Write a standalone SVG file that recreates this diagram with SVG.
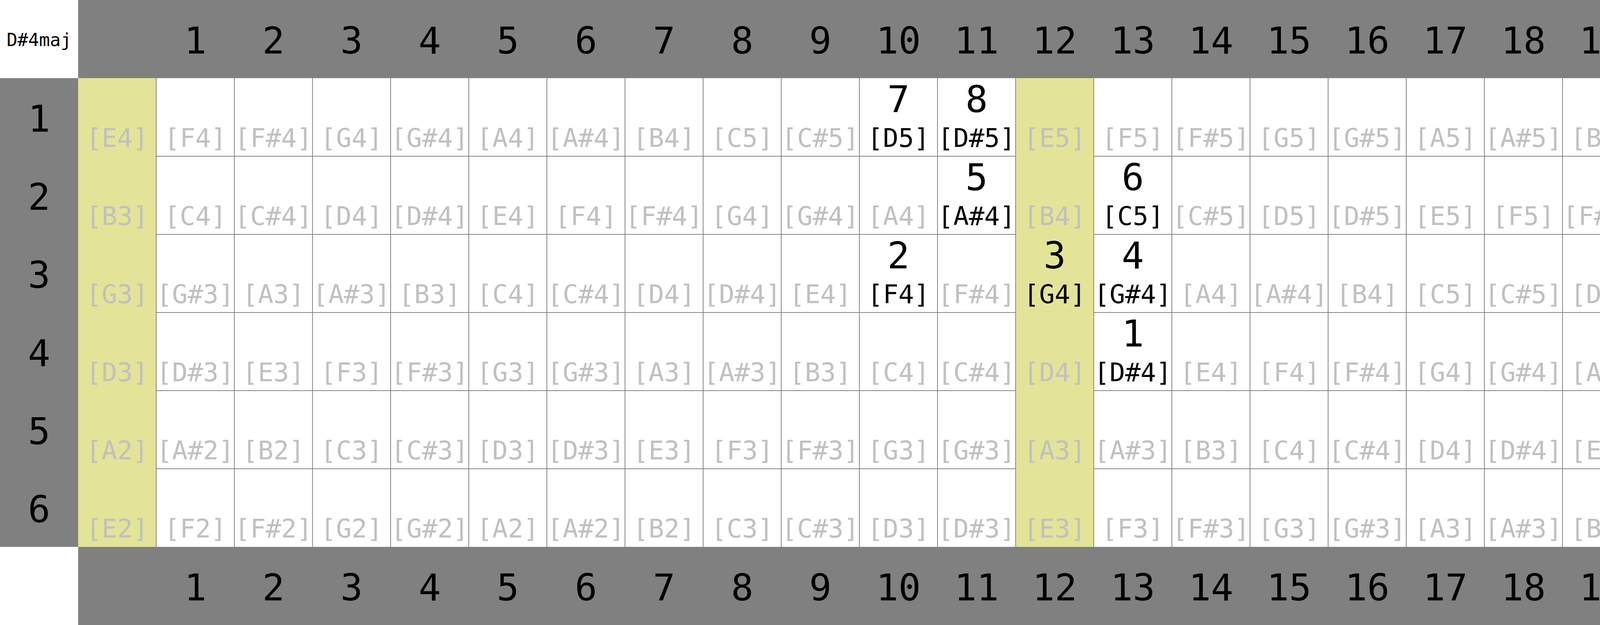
<svg xmlns="http://www.w3.org/2000/svg" width="5400" height="1600" viewBox="0 0 5400 1600">
<style>
text{font-family:"DejaVu Sans Mono","Liberation Mono",monospace;text-anchor:middle}
.hd{font-size:95px;fill:#000}
.ttl{font-size:46px;fill:#000}
.n{font-size:66px;fill:#c0c0c0}
.a{font-size:66px;fill:#000}
.num{font-size:95px;fill:#000}
.band{fill:#808080}
.open{fill:#e3e498}
.gl{stroke:#868686;stroke-width:2;fill:none}
</style>
<rect x="0" y="0" width="5400" height="1600" fill="#ffffff"/>
<g id="grid">
<path class="gl" d="M200 400H5200M200 600H5200M200 800H5200M200 1000H5200M200 1200H5200"/>
<rect class="open" x="200" y="200" width="200" height="1200"/>
<rect class="open" x="2600" y="200" width="200" height="1200"/>
<rect class="open" x="5000" y="200" width="200" height="1200"/>
<path class="gl" d="M400 200V1400M600 200V1400M800 200V1400M1000 200V1400M1200 200V1400M1400 200V1400M1600 200V1400M1800 200V1400M2000 200V1400M2200 200V1400M2400 200V1400M2600 200V1400M2800 200V1400M3000 200V1400M3200 200V1400M3400 200V1400M3600 200V1400M3800 200V1400M4000 200V1400M4200 200V1400M4400 200V1400M4600 200V1400M4800 200V1400M5000 200V1400"/>
</g>
<g id="bands">
<rect class="band" x="200" y="0" width="5000" height="200"/>
<rect class="band" x="200" y="1400" width="5000" height="200"/>
<rect class="band" x="0" y="200" width="200" height="1200"/>
<rect class="band" x="5200" y="200" width="200" height="1200"/>
</g>
<g id="title"><text class="ttl" x="100" y="118">D#4maj</text></g>
<g id="fret-numbers-top">
<text class="hd" x="500" y="137">1</text><text class="hd" x="700" y="137">2</text><text class="hd" x="900" y="137">3</text><text class="hd" x="1100" y="137">4</text><text class="hd" x="1300" y="137">5</text><text class="hd" x="1500" y="137">6</text><text class="hd" x="1700" y="137">7</text><text class="hd" x="1900" y="137">8</text><text class="hd" x="2100" y="137">9</text><text class="hd" x="2300" y="137">10</text><text class="hd" x="2500" y="137">11</text><text class="hd" x="2700" y="137">12</text><text class="hd" x="2900" y="137">13</text><text class="hd" x="3100" y="137">14</text><text class="hd" x="3300" y="137">15</text><text class="hd" x="3500" y="137">16</text><text class="hd" x="3700" y="137">17</text><text class="hd" x="3900" y="137">18</text><text class="hd" x="4100" y="137">19</text><text class="hd" x="4300" y="137">20</text><text class="hd" x="4500" y="137">21</text><text class="hd" x="4700" y="137">22</text><text class="hd" x="4900" y="137">23</text><text class="hd" x="5100" y="137">24</text>
</g>
<g id="fret-numbers-bottom">
<text class="hd" x="500" y="1537">1</text><text class="hd" x="700" y="1537">2</text><text class="hd" x="900" y="1537">3</text><text class="hd" x="1100" y="1537">4</text><text class="hd" x="1300" y="1537">5</text><text class="hd" x="1500" y="1537">6</text><text class="hd" x="1700" y="1537">7</text><text class="hd" x="1900" y="1537">8</text><text class="hd" x="2100" y="1537">9</text><text class="hd" x="2300" y="1537">10</text><text class="hd" x="2500" y="1537">11</text><text class="hd" x="2700" y="1537">12</text><text class="hd" x="2900" y="1537">13</text><text class="hd" x="3100" y="1537">14</text><text class="hd" x="3300" y="1537">15</text><text class="hd" x="3500" y="1537">16</text><text class="hd" x="3700" y="1537">17</text><text class="hd" x="3900" y="1537">18</text><text class="hd" x="4100" y="1537">19</text><text class="hd" x="4300" y="1537">20</text><text class="hd" x="4500" y="1537">21</text><text class="hd" x="4700" y="1537">22</text><text class="hd" x="4900" y="1537">23</text><text class="hd" x="5100" y="1537">24</text>
</g>
<g id="string-numbers-left">
<text class="hd" x="100" y="337">1</text><text class="hd" x="100" y="537">2</text><text class="hd" x="100" y="737">3</text><text class="hd" x="100" y="937">4</text><text class="hd" x="100" y="1137">5</text><text class="hd" x="100" y="1337">6</text>
</g>
<g id="string-numbers-right">
<text class="hd" x="5300" y="337">1</text><text class="hd" x="5300" y="537">2</text><text class="hd" x="5300" y="737">3</text><text class="hd" x="5300" y="937">4</text><text class="hd" x="5300" y="1137">5</text><text class="hd" x="5300" y="1337">6</text>
</g>
<g id="string-1">
<text class="n" x="300" y="376">[E4]</text><text class="n" x="500" y="376">[F4]</text><text class="n" x="700" y="376">[F#4]</text><text class="n" x="900" y="376">[G4]</text><text class="n" x="1100" y="376">[G#4]</text><text class="n" x="1300" y="376">[A4]</text><text class="n" x="1500" y="376">[A#4]</text><text class="n" x="1700" y="376">[B4]</text><text class="n" x="1900" y="376">[C5]</text><text class="n" x="2100" y="376">[C#5]</text><text class="n" x="2700" y="376">[E5]</text><text class="n" x="2900" y="376">[F5]</text><text class="n" x="3100" y="376">[F#5]</text><text class="n" x="3300" y="376">[G5]</text><text class="n" x="3500" y="376">[G#5]</text><text class="n" x="3700" y="376">[A5]</text><text class="n" x="3900" y="376">[A#5]</text><text class="n" x="4100" y="376">[B5]</text><text class="n" x="4300" y="376">[C6]</text><text class="n" x="4500" y="376">[C#6]</text><text class="n" x="4700" y="376">[D6]</text><text class="n" x="4900" y="376">[D#6]</text><text class="n" x="5100" y="376">[E6]</text>
</g>
<g id="s1-f10"><text class="num" x="2300" y="287">7</text><text class="a" x="2300" y="376">[D5]</text></g>
<g id="s1-f11"><text class="num" x="2500" y="287">8</text><text class="a" x="2500" y="376">[D#5]</text></g>
<g id="string-2">
<text class="n" x="300" y="576">[B3]</text><text class="n" x="500" y="576">[C4]</text><text class="n" x="700" y="576">[C#4]</text><text class="n" x="900" y="576">[D4]</text><text class="n" x="1100" y="576">[D#4]</text><text class="n" x="1300" y="576">[E4]</text><text class="n" x="1500" y="576">[F4]</text><text class="n" x="1700" y="576">[F#4]</text><text class="n" x="1900" y="576">[G4]</text><text class="n" x="2100" y="576">[G#4]</text><text class="n" x="2300" y="576">[A4]</text><text class="n" x="2700" y="576">[B4]</text><text class="n" x="3100" y="576">[C#5]</text><text class="n" x="3300" y="576">[D5]</text><text class="n" x="3500" y="576">[D#5]</text><text class="n" x="3700" y="576">[E5]</text><text class="n" x="3900" y="576">[F5]</text><text class="n" x="4100" y="576">[F#5]</text><text class="n" x="4300" y="576">[G5]</text><text class="n" x="4500" y="576">[G#5]</text><text class="n" x="4700" y="576">[A5]</text><text class="n" x="4900" y="576">[A#5]</text><text class="n" x="5100" y="576">[B5]</text>
</g>
<g id="s2-f11"><text class="num" x="2500" y="487">5</text><text class="a" x="2500" y="576">[A#4]</text></g>
<g id="s2-f13"><text class="num" x="2900" y="487">6</text><text class="a" x="2900" y="576">[C5]</text></g>
<g id="string-3">
<text class="n" x="300" y="776">[G3]</text><text class="n" x="500" y="776">[G#3]</text><text class="n" x="700" y="776">[A3]</text><text class="n" x="900" y="776">[A#3]</text><text class="n" x="1100" y="776">[B3]</text><text class="n" x="1300" y="776">[C4]</text><text class="n" x="1500" y="776">[C#4]</text><text class="n" x="1700" y="776">[D4]</text><text class="n" x="1900" y="776">[D#4]</text><text class="n" x="2100" y="776">[E4]</text><text class="n" x="2500" y="776">[F#4]</text><text class="n" x="3100" y="776">[A4]</text><text class="n" x="3300" y="776">[A#4]</text><text class="n" x="3500" y="776">[B4]</text><text class="n" x="3700" y="776">[C5]</text><text class="n" x="3900" y="776">[C#5]</text><text class="n" x="4100" y="776">[D5]</text><text class="n" x="4300" y="776">[D#5]</text><text class="n" x="4500" y="776">[E5]</text><text class="n" x="4700" y="776">[F5]</text><text class="n" x="4900" y="776">[F#5]</text><text class="n" x="5100" y="776">[G5]</text>
</g>
<g id="s3-f10"><text class="num" x="2300" y="687">2</text><text class="a" x="2300" y="776">[F4]</text></g>
<g id="s3-f12"><text class="num" x="2700" y="687">3</text><text class="a" x="2700" y="776">[G4]</text></g>
<g id="s3-f13"><text class="num" x="2900" y="687">4</text><text class="a" x="2900" y="776">[G#4]</text></g>
<g id="string-4">
<text class="n" x="300" y="976">[D3]</text><text class="n" x="500" y="976">[D#3]</text><text class="n" x="700" y="976">[E3]</text><text class="n" x="900" y="976">[F3]</text><text class="n" x="1100" y="976">[F#3]</text><text class="n" x="1300" y="976">[G3]</text><text class="n" x="1500" y="976">[G#3]</text><text class="n" x="1700" y="976">[A3]</text><text class="n" x="1900" y="976">[A#3]</text><text class="n" x="2100" y="976">[B3]</text><text class="n" x="2300" y="976">[C4]</text><text class="n" x="2500" y="976">[C#4]</text><text class="n" x="2700" y="976">[D4]</text><text class="n" x="3100" y="976">[E4]</text><text class="n" x="3300" y="976">[F4]</text><text class="n" x="3500" y="976">[F#4]</text><text class="n" x="3700" y="976">[G4]</text><text class="n" x="3900" y="976">[G#4]</text><text class="n" x="4100" y="976">[A4]</text><text class="n" x="4300" y="976">[A#4]</text><text class="n" x="4500" y="976">[B4]</text><text class="n" x="4700" y="976">[C5]</text><text class="n" x="4900" y="976">[C#5]</text><text class="n" x="5100" y="976">[D5]</text>
</g>
<g id="s4-f13"><text class="num" x="2900" y="887">1</text><text class="a" x="2900" y="976">[D#4]</text></g>
<g id="string-5">
<text class="n" x="300" y="1176">[A2]</text><text class="n" x="500" y="1176">[A#2]</text><text class="n" x="700" y="1176">[B2]</text><text class="n" x="900" y="1176">[C3]</text><text class="n" x="1100" y="1176">[C#3]</text><text class="n" x="1300" y="1176">[D3]</text><text class="n" x="1500" y="1176">[D#3]</text><text class="n" x="1700" y="1176">[E3]</text><text class="n" x="1900" y="1176">[F3]</text><text class="n" x="2100" y="1176">[F#3]</text><text class="n" x="2300" y="1176">[G3]</text><text class="n" x="2500" y="1176">[G#3]</text><text class="n" x="2700" y="1176">[A3]</text><text class="n" x="2900" y="1176">[A#3]</text><text class="n" x="3100" y="1176">[B3]</text><text class="n" x="3300" y="1176">[C4]</text><text class="n" x="3500" y="1176">[C#4]</text><text class="n" x="3700" y="1176">[D4]</text><text class="n" x="3900" y="1176">[D#4]</text><text class="n" x="4100" y="1176">[E4]</text><text class="n" x="4300" y="1176">[F4]</text><text class="n" x="4500" y="1176">[F#4]</text><text class="n" x="4700" y="1176">[G4]</text><text class="n" x="4900" y="1176">[G#4]</text><text class="n" x="5100" y="1176">[A4]</text>
</g>
<g id="string-6">
<text class="n" x="300" y="1376">[E2]</text><text class="n" x="500" y="1376">[F2]</text><text class="n" x="700" y="1376">[F#2]</text><text class="n" x="900" y="1376">[G2]</text><text class="n" x="1100" y="1376">[G#2]</text><text class="n" x="1300" y="1376">[A2]</text><text class="n" x="1500" y="1376">[A#2]</text><text class="n" x="1700" y="1376">[B2]</text><text class="n" x="1900" y="1376">[C3]</text><text class="n" x="2100" y="1376">[C#3]</text><text class="n" x="2300" y="1376">[D3]</text><text class="n" x="2500" y="1376">[D#3]</text><text class="n" x="2700" y="1376">[E3]</text><text class="n" x="2900" y="1376">[F3]</text><text class="n" x="3100" y="1376">[F#3]</text><text class="n" x="3300" y="1376">[G3]</text><text class="n" x="3500" y="1376">[G#3]</text><text class="n" x="3700" y="1376">[A3]</text><text class="n" x="3900" y="1376">[A#3]</text><text class="n" x="4100" y="1376">[B3]</text><text class="n" x="4300" y="1376">[C4]</text><text class="n" x="4500" y="1376">[C#4]</text><text class="n" x="4700" y="1376">[D4]</text><text class="n" x="4900" y="1376">[D#4]</text><text class="n" x="5100" y="1376">[E4]</text>
</g>
</svg>
